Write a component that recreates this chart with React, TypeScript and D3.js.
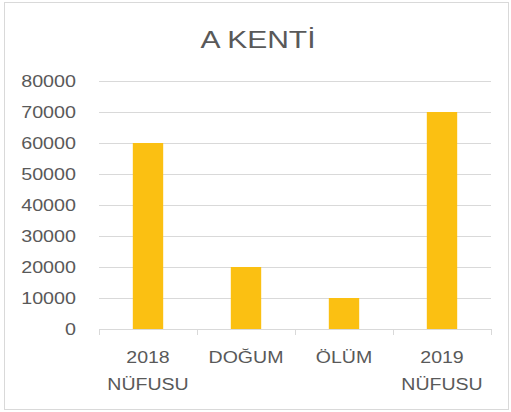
import React, { useEffect, useRef } from "react";
import * as d3 from "d3";

const categories = ["2018 NÜFUSU", "DOĞUM", "ÖLÜM", "2019 NÜFUSU"];
const values = [60000, 20000, 10000, 70000];
const yTicks = [0, 10000, 20000, 30000, 40000, 50000, 60000, 70000, 80000];
const title = "A KENTİ";

const FONT = "Liberation Sans, Arial, sans-serif";

const App = () => {
  const svgRef = useRef<SVGSVGElement>(null);

  useEffect(() => {
    const width = 511,
      height = 412;
    const margin = { top: 81, right: 20, bottom: 83, left: 99 };
    const plotW = width - margin.left - margin.right;
    const plotH = height - margin.top - margin.bottom;

    const svg = d3.select(svgRef.current);
    svg.selectAll("*").remove();

    // outer frame
    svg
      .append("rect")
      .attr("x", 4.5)
      .attr("y", 2.5)
      .attr("width", 504)
      .attr("height", 407)
      .attr("fill", "white")
      .attr("stroke", "#d9d9d9");

    // title, glyphs a bit wider than plain Arial
    svg
      .append("text")
      .attr("transform", "translate(258,48) scale(1.25,1)")
      .attr("text-anchor", "middle")
      .style("font-family", FONT)
      .style("font-size", "24px")
      .style("fill", "#595959")
      .text(title);

    const g = svg
      .append("g")
      .attr("transform", "translate(" + margin.left + "," + margin.top + ")");

    const x = d3.scaleBand().domain(categories).range([0, plotW]).padding(0);
    const y = d3.scaleLinear().domain([0, 80000]).range([plotH, 0]);

    // gridlines
    g.selectAll(".grid")
      .data(yTicks.slice(1))
      .enter()
      .append("line")
      .attr("x1", 0)
      .attr("x2", plotW)
      .attr("y1", (d) => Math.round(y(d)) + 0.5)
      .attr("y2", (d) => Math.round(y(d)) + 0.5)
      .attr("stroke", "#d9d9d9")
      .attr("stroke-width", 1);

    // y labels
    g.selectAll(".ylab")
      .data(yTicks)
      .enter()
      .append("text")
      .attr("transform", (d) => "translate(-23," + (y(d) + 6) + ") scale(1.16,1)")
      .attr("text-anchor", "end")
      .style("font-family", FONT)
      .style("font-size", "17px")
      .style("fill", "#595959")
      .text((d) => d);

    // bars
    const barW = x.bandwidth() * 0.31;
    g.selectAll(".bar")
      .data(values)
      .enter()
      .append("rect")
      .attr("x", (d, i) => x(categories[i])! + (x.bandwidth() - barW) / 2)
      .attr("y", (d) => y(d))
      .attr("width", barW)
      .attr("height", (d) => plotH - y(d))
      .attr("fill", "#FBC012");

    // x axis line + ticks
    g.append("line")
      .attr("x1", 0)
      .attr("x2", plotW)
      .attr("y1", plotH + 0.5)
      .attr("y2", plotH + 0.5)
      .attr("stroke", "#d9d9d9");
    const edges = categories.map((c) => x(c)!).concat([plotW]);
    g.selectAll(".tick")
      .data(edges)
      .enter()
      .append("line")
      .attr("x1", (d) => Math.round(d) + 0.5)
      .attr("x2", (d) => Math.round(d) + 0.5)
      .attr("y1", plotH)
      .attr("y2", plotH + 6)
      .attr("stroke", "#d9d9d9");

    // x labels (two lines where needed)
    categories.forEach((c) => {
      const words = c.split(" ");
      const cx = x(c)! + x.bandwidth() / 2;
      const t = g
        .append("text")
        .attr("transform", "translate(" + cx + "," + (plotH + 34) + ") scale(1.15,1)")
        .attr("text-anchor", "middle")
        .style("font-family", FONT)
        .style("font-size", "17px")
        .style("fill", "#595959");
      words.forEach((w, i) => {
        t.append("tspan")
          .attr("x", 0)
          .attr("dy", i === 0 ? 0 : 27)
          .text(w);
      });
    });
  }, []);

  return (
    <svg
      ref={svgRef}
      width={511}
      height={412}
      style={{ position: "absolute", left: 0, top: 0, display: "block" }}
    />
  );
};

export default App;
